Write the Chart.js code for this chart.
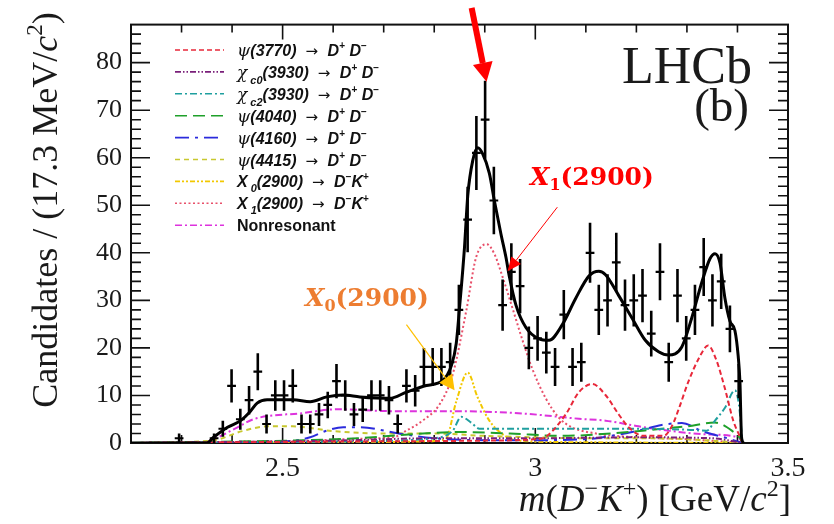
<!DOCTYPE html>
<html><head><meta charset="utf-8">
<script src="https://cdn.jsdelivr.net/npm/chart.js@4.4.1/dist/chart.umd.min.js"></script>
<style>html,body{margin:0;padding:0;background:#fff}#wrap{width:834px;height:524px;position:relative}</style>
</head><body><div id="wrap"><canvas id="c" width="834" height="524"></canvas></div>
<script>
// ---------- axes ----------
const X_MIN = 2.2, X_MAX = 3.5, Y_MIN = 0, Y_MAX = 88;
const xTickLabels = [2.5, 3, 3.5];
const yTickLabels = [0, 10, 20, 30, 40, 50, 60, 70, 80];
const BIN_WIDTH = 0.0173;

// ---------- data points (bin centres, counts, errors) ----------
const binCenters = [2.2952, 2.3644, 2.3817, 2.3990, 2.4163, 2.4336, 2.4509, 2.4682, 2.4855, 2.5028, 2.5201,
  2.5374, 2.5547, 2.5720, 2.5893, 2.6066, 2.6239, 2.6412, 2.6585, 2.6758, 2.6931, 2.7104, 2.7277, 2.7450,
  2.7623, 2.7796, 2.7969, 2.8142, 2.8315, 2.8488, 2.8661, 2.8834, 2.9007, 2.9180, 2.9353, 2.9526, 2.9699,
  2.9872, 3.0045, 3.0218, 3.0391, 3.0564, 3.0737, 3.0910, 3.1083, 3.1256, 3.1429, 3.1602, 3.1775, 3.1948,
  3.2121, 3.2294, 3.2467, 3.2640, 3.2813, 3.2986, 3.3159, 3.3332, 3.3505, 3.3678, 3.3851, 3.4024];
const counts = [1, 1, 3, 12, 5, 9, 15, 4, 10, 10, 12,
  4, 4, 6, 8, 13, 10, 6, 7, 10, 10, 9, 4, 12,
  11, 16, 16, 16, 17, 28, 47, 61, 68, 51, 29, 36, 33,
  20, 22, 19, 16, 27, 16, 17, 40, 28, 30, 38, 29, 30,
  31, 23, 36, 17, 31, 22, 28, 37, 30, 34, 24, 13];
const countErrors = [1.0, 1.0, 1.7, 3.5, 2.2, 3.0, 3.9, 2.0, 3.2, 3.2, 3.5,
  2.0, 2.0, 2.4, 2.8, 3.6, 3.2, 2.4, 2.6, 3.2, 3.2, 3.0, 2.0, 3.5,
  3.3, 4.0, 4.0, 4.0, 4.1, 5.3, 6.9, 7.8, 8.2, 7.1, 5.4, 6.0, 5.7,
  4.5, 4.7, 4.4, 4.0, 5.2, 4.0, 4.1, 6.3, 5.3, 5.5, 6.2, 5.4, 5.5,
  5.6, 4.8, 6.0, 4.1, 5.6, 4.7, 5.3, 6.1, 5.5, 5.8, 4.9, 3.6];

// ---------- total fit ----------
const fitMass = [2.20, 2.35, 2.3635, 2.391, 2.4167, 2.4364, 2.4496, 2.4693, 2.521, 2.5545, 2.5874, 2.6195, 2.653,
  2.7121, 2.745, 2.7844, 2.8165, 2.8336, 2.8435, 2.85, 2.8598, 2.8663, 2.8762, 2.886, 2.8959, 2.9091, 2.9189,
  2.9321, 2.942, 2.9485, 2.9617, 2.9814, 3.0076, 3.0273, 3.0535, 3.0798, 3.106, 3.1257, 3.1389, 3.1651, 3.1913,
  3.2177, 3.2439, 3.2636, 3.2898, 3.3095, 3.3292, 3.3458, 3.3556, 3.3655, 3.3753, 3.3852, 3.395, 3.4015, 3.4049,
  3.408, 3.412];
const fitVal = [0, 0, 1.2, 3.3, 4.7, 6.7, 8.4, 9.1, 9.1, 8.7, 9.7, 10.1, 9.7,
  9.4, 10.7, 12.1, 13.1, 16.2, 20.9, 28.4, 41, 52, 59.4, 62.1, 60.8, 56.7, 51,
  43.9, 39, 35.1, 29, 24.3, 21.9, 21.6, 24.9, 30.4, 35.1, 36.1, 35.4, 31, 26.3,
  21.6, 19.2, 18.5, 20.2, 26.3, 33.7, 38.8, 39.8, 37.8, 30.4, 25.6, 23.6, 18.2, 12.8,
  1.3, 0];

// ---------- components ----------
const psi3770Mass = [2.20, 2.6, 2.9, 3.0, 3.0207, 3.0601, 3.0863, 3.1126, 3.1389, 3.1651, 3.1848, 3.2144, 3.2538, 3.27, 3.285, 3.3025, 3.3255, 3.342, 3.358, 3.3753, 3.3917, 3.4049, 3.41];
const psi3770Val  = [0, 0.3, 0.5, 0.8, 1.3, 6, 10.7, 12.4, 10.1, 6, 3.3, 1.5, 1.5, 3.5, 7.5, 12.8, 18.2, 20.5, 17.5, 11.4, 4.7, 1.3, 0];
const chic0Mass = [2.20, 2.6, 2.8, 3.0, 3.2, 3.35, 3.41];
const chic0Val  = [0, 0.5, 1, 1, 1.2, 1, 0];
const chic2Mass = [2.20, 2.6, 2.8, 2.8367, 2.8533, 2.873, 2.8894, 2.93, 3.0, 3.1, 3.2, 3.3, 3.3393, 3.3556, 3.3753, 3.395, 3.403, 3.41];
const chic2Val  = [0, 0.3, 1, 2.6, 5.5, 4.3, 3, 3, 3, 3, 3, 2.8, 2.6, 4.7, 7.4, 11.1, 8, 0];
const psi4040Mass = [2.20, 2.4, 2.55, 2.65, 2.75, 2.85, 2.95, 3.05, 3.15, 3.25, 3.3, 3.355, 3.39, 3.405, 3.41];
const psi4040Val  = [0, 0.3, 0.6, 1, 1.8, 2.3, 2, 1.5, 2, 3, 3.5, 4.3, 2.5, 1, 0];
const psi4160Mass = [2.20, 2.5, 2.5545, 2.587, 2.62, 2.653, 2.73, 2.8, 2.9, 3.0, 3.1, 3.15, 3.2, 3.25, 3.29, 3.33, 3.38, 3.41];
const psi4160Val  = [0, 0.3, 1.2, 2.6, 3.3, 3.3, 2, 1, 0.6, 0.6, 0.8, 1.5, 2.5, 3.8, 4.2, 2.5, 1, 0];
const psi4415Mass = [2.20, 2.36, 2.42, 2.47, 2.52, 2.6, 2.7, 2.8, 2.9, 3.0, 3.1, 3.2, 3.3, 3.41];
const psi4415Val  = [0, 0.5, 2.5, 3.5, 3.5, 2.5, 2, 2, 1.5, 1.2, 1, 1, 0.8, 0];
const x0Mass = [2.20, 2.70, 2.80, 2.8238, 2.8435, 2.8663, 2.8855, 2.909, 2.9386, 2.968, 3.05, 3.41];
const x0Val  = [0, 0.2, 0.4, 1, 8.7, 14.8, 9.7, 4.7, 1.6, 0.5, 0.2, 0];
const x1Mass = [2.20, 2.55, 2.65, 2.722, 2.745, 2.777, 2.8104, 2.836, 2.863, 2.883, 2.904, 2.9189, 2.9347, 2.955, 2.9747, 2.9944, 3.0207, 3.0469, 3.0725, 3.12, 3.2, 3.3, 3.41];
const x1Val  = [0, 0.5, 0.9, 1.3, 2.6, 4.7, 8.1, 14.2, 27.6, 39.1, 41.8, 39.8, 35.1, 28.3, 21.6, 15.5, 9.4, 5.3, 3.3, 2, 1.2, 0.8, 0];
const nrMass = [2.20, 2.34, 2.3635, 2.4108, 2.4423, 2.5408, 2.6077, 2.718, 2.8165, 2.923, 2.988, 3.0863, 3.139, 3.2045, 3.27, 3.342, 3.4015, 3.41];
const nrVal  = [0, 0, 0.8, 3.3, 5, 6.3, 7.1, 6.7, 6.7, 6.5, 6.1, 5.1, 4.7, 3.5, 2.5, 1.8, 1.2, 0];

// ---------- fonts for rich text ----------
const SERIF = '"Liberation Serif", "Times New Roman", "DejaVu Serif", serif';
const BI = 'bold italic 16px "Liberation Sans"';
const BN = 'bold 16px "Liberation Sans"';
const GR = 'italic 17px "DejaVu Serif"';
const AR = '15px "DejaVu Sans"';
const SUP = 'bold 10px "Liberation Sans"';
const SUB = 'bold italic 11px "Liberation Sans"';
function ddLabel(greek, sub, mass){
  const s = [{t: greek, f: GR}];
  if (sub) s.push({t: ' ' + sub, f: SUB, dy: 6});
  s.push({t: mass + '  ', f: BI}, {t: '\u2192  ', f: AR}, {t: 'D', f: BI}, {t: '+', f: SUP, dy: -7}, {t: ' D', f: BI}, {t: '\u2212', f: SUP, dy: -7});
  return s;
}
function dkLabel(sub){
  return [{t: 'X', f: BI}, {t: ' ' + sub, f: SUB, dy: 5}, {t: '(2900)  ', f: BI}, {t: '\u2192  ', f: AR}, {t: 'D', f: BI}, {t: '\u2212', f: SUP, dy: -7}, {t: 'K', f: BI}, {t: '+', f: SUP, dy: -7}];
}

const components = [
  {label: '\u03c8(3770) \u2192 D+ D\u2212', rich: ddLabel('\u03c8', '', '(3770)'), mass: psi3770Mass, val: psi3770Val, color: '#e8283a', dash: [5, 3]},
  {label: '\u03c7c0(3930) \u2192 D+ D\u2212', rich: ddLabel('\u03c7', 'c0', '(3930)'), mass: chic0Mass, val: chic0Val, color: '#7a1f7a', dash: [6, 2, 1.5, 2, 1.5, 2]},
  {label: '\u03c7c2(3930) \u2192 D+ D\u2212', rich: ddLabel('\u03c7', 'c2', '(3930)'), mass: chic2Mass, val: chic2Val, color: '#1f9f9f', dash: [7, 3, 2, 3]},
  {label: '\u03c8(4040) \u2192 D+ D\u2212', rich: ddLabel('\u03c8', '', '(4040)'), mass: psi4040Mass, val: psi4040Val, color: '#1fa02a', dash: [12, 6]},
  {label: '\u03c8(4160) \u2192 D+ D\u2212', rich: ddLabel('\u03c8', '', '(4160)'), mass: psi4160Mass, val: psi4160Val, color: '#2b2bdc', dash: [14, 6, 3, 6]},
  {label: '\u03c8(4415) \u2192 D+ D\u2212', rich: ddLabel('\u03c8', '', '(4415)'), mass: psi4415Mass, val: psi4415Val, color: '#c8c830', dash: [5, 4]},
  {label: 'X0(2900) \u2192 D\u2212K+', rich: dkLabel('0'), mass: x0Mass, val: x0Val, color: '#f2c800', dash: [5, 2, 2, 2, 2, 2]},
  {label: 'X1(2900) \u2192 D\u2212K+', rich: dkLabel('1'), mass: x1Mass, val: x1Val, color: '#e8506a', dash: [2, 2.5]},
  {label: 'Nonresonant', rich: [{t: 'Nonresonant', f: BN}], mass: nrMass, val: nrVal, color: '#dd33dd', dash: [7, 3, 2, 3]}
];

// ---------- build datasets ----------
const zip = (m, v) => m.map((x, i) => ({x: x, y: v[i]}));
const errV = [], errH = [];
binCenters.forEach((c, i) => {
  errV.push({x: c, y: counts[i] - countErrors[i]}, {x: c, y: counts[i] + countErrors[i]}, {x: c, y: null});
  errH.push({x: c - BIN_WIDTH / 2, y: counts[i]}, {x: c + BIN_WIDTH / 2, y: counts[i]}, {x: c + BIN_WIDTH / 2, y: null});
});
const datasets = [
  {label: 'Data', data: errV, borderColor: '#000', borderWidth: 2.6, pointRadius: 0, spanGaps: false, fill: false},
  {label: 'Data bins', data: errH, borderColor: '#000', borderWidth: 2.2, pointRadius: 0, spanGaps: false, fill: false},
  {label: 'Total fit', data: zip(fitMass, fitVal), borderColor: '#000', borderWidth: 3, pointRadius: 0, cubicInterpolationMode: 'monotone', fill: false}
];
components.forEach(c => datasets.push({label: c.label, data: zip(c.mass, c.val), borderColor: c.color, borderWidth: 2, borderDash: c.dash, pointRadius: 0, cubicInterpolationMode: 'monotone', fill: false}));

// ---------- helpers ----------
function richWidth(ctx, segs){ let w = 0; for (const s of segs){ ctx.font = s.f; w += ctx.measureText(s.t).width; } return w; }
function drawRich(ctx, x, y, segs, align){
  const w = richWidth(ctx, segs);
  let cx = align === 'center' ? x - w / 2 : (align === 'right' ? x - w : x);
  ctx.textAlign = 'left'; ctx.textBaseline = 'alphabetic';
  for (const s of segs){ ctx.font = s.f; ctx.fillText(s.t, cx, y + (s.dy || 0)); cx += ctx.measureText(s.t).width; }
}
function arrow(ctx, x0, y0, x1, y1, lw, hl, hw, color){
  const dx = x1 - x0, dy = y1 - y0, L = Math.hypot(dx, dy), ux = dx / L, uy = dy / L;
  const bx = x1 - ux * hl, by = y1 - uy * hl;
  ctx.strokeStyle = color; ctx.fillStyle = color; ctx.lineWidth = lw; ctx.setLineDash([]);
  ctx.beginPath(); ctx.moveTo(x0, y0); ctx.lineTo(bx, by); ctx.stroke();
  ctx.beginPath(); ctx.moveTo(x1, y1); ctx.lineTo(bx - uy * hw, by + ux * hw); ctx.lineTo(bx + uy * hw, by - ux * hw); ctx.closePath(); ctx.fill();
}

const framePlugin = {
  id: 'frame',
  beforeDatasetsDraw(chart){
    const {ctx, chartArea: a, scales: {x, y}} = chart;
    ctx.save();
    ctx.strokeStyle = '#111'; ctx.lineWidth = 2; ctx.setLineDash([]);
    ctx.strokeRect(a.left, a.top, a.right - a.left, a.bottom - a.top);
    ctx.lineWidth = 1.6;
    ctx.beginPath();
    for (let i = 0; i <= 44; i++){
      const v = i * 2, py = y.getPixelForValue(v), len = (v % 10 === 0) ? 19 : 10;
      if (py < a.top + 1) continue;
      ctx.moveTo(a.left, py); ctx.lineTo(a.left + len, py);
      ctx.moveTo(a.right, py); ctx.lineTo(a.right - len, py);
    }
    for (let i = 22; i <= 35; i++){
      const v = i / 10, px = x.getPixelForValue(v), len = (i % 5 === 0) ? 15 : 8;
      ctx.moveTo(px, a.bottom); ctx.lineTo(px, a.bottom - len);
      ctx.moveTo(px, a.top); ctx.lineTo(px, a.top + len);
    }
    ctx.stroke();
    ctx.restore();
  },
  afterDraw(chart){
    const {ctx, chartArea: a, scales: {x, y}} = chart;
    ctx.save();
    ctx.fillStyle = '#1a1a1a';
    // axis titles
    const TF = '36px ' + SERIF, TI = 'italic 36px ' + SERIF, TS = '23px ' + SERIF;
    ctx.save(); ctx.translate(57, 210); ctx.rotate(-Math.PI / 2);
    drawRich(ctx, 0, 0, [{t: 'Candidates / (17.3 MeV/', f: TF}, {t: 'c', f: TI}, {t: '2', f: TS, dy: -15}, {t: ')', f: TF}], 'center');
    ctx.restore();
    const XF = '37px ' + SERIF, XI = 'italic 37px ' + SERIF, XS = '24px ' + SERIF;
    drawRich(ctx, 791, 511, [{t: 'm', f: XI}, {t: '(', f: XF}, {t: 'D', f: XI}, {t: '\u2212', f: XS, dy: -15}, {t: 'K', f: XI}, {t: '+', f: XS, dy: -15}, {t: ') [GeV/', f: XF}, {t: 'c', f: XI}, {t: '2', f: XS, dy: -15}, {t: ']', f: XF}], 'right');
    // LHCb label
    ctx.font = '52px ' + SERIF; ctx.textAlign = 'right'; ctx.textBaseline = 'alphabetic';
    ctx.fillText('LHCb', 752, 83);
    ctx.font = '47px ' + SERIF;
    ctx.fillText('(b)', 749, 121);
    // legend
    components.forEach((c, i) => {
      const ly = 50 + i * 21.9;
      ctx.strokeStyle = c.color; ctx.lineWidth = 1.6; ctx.setLineDash(c.dash);
      ctx.beginPath(); ctx.moveTo(175, ly); ctx.lineTo(224, ly); ctx.stroke();
      ctx.setLineDash([]);
      ctx.fillStyle = '#111';
      drawRich(ctx, 237, ly + 6, c.rich, 'left');
    });
    // annotations
    const P = (m, v) => [x.getPixelForValue(m), y.getPixelForValue(v)];
    let t0 = P(2.874, 91.5), t1 = P(2.9035, 76);
    arrow(ctx, t0[0], t0[1], t1[0], t1[1], 6, 19, 10, '#ff0000');
    t0 = P(3.0436, 49.6); t1 = P(2.9451, 36.1);
    arrow(ctx, t0[0], t0[1], t1[0], t1[1], 1, 14, 6, '#ff0000');
    t0 = P(2.745, 24.9); t1 = P(2.8402, 11.1);
    arrow(ctx, t0[0], t0[1], t1[0], t1[1], 1.2, 15, 8, '#ffc000');
    const AF = 'bold 25px "DejaVu Serif"', AI = 'bold italic 25px "DejaVu Serif"', AS = 'bold 16px "DejaVu Serif"';
    ctx.fillStyle = '#ff0000';
    drawRich(ctx, 530, 185, [{t: 'X', f: AI}, {t: '1', f: AS, dy: 5}, {t: '(2900)', f: AF}], 'left');
    ctx.fillStyle = '#ed7d31';
    drawRich(ctx, 305, 306, [{t: 'X', f: AI}, {t: '0', f: AS, dy: 5}, {t: '(2900)', f: AF}], 'left');
    ctx.restore();
  }
};

new Chart(document.getElementById('c').getContext('2d'), {
  type: 'line',
  data: {datasets: datasets},
  options: {
    responsive: false, animation: false,
    layout: {padding: {top: 8, right: 46, left: 0, bottom: 0}},
    plugins: {legend: {display: false}, tooltip: {enabled: false}, title: {display: false}},
    elements: {point: {radius: 0}},
    scales: {
      x: {type: 'linear', min: X_MIN, max: X_MAX,
        afterFit: s => { s.height = 81; },
        afterBuildTicks: s => { s.ticks = xTickLabels.map(v => ({value: v})); },
        grid: {display: false, drawTicks: false}, border: {display: false},
        ticks: {font: {family: SERIF, size: 28}, color: '#1a1a1a', padding: 9, maxRotation: 0, autoSkip: false, callback: v => String(v)}},
      y: {type: 'linear', min: Y_MIN, max: Y_MAX,
        afterFit: s => { s.width = 131; },
        afterBuildTicks: s => { s.ticks = yTickLabels.map(v => ({value: v})); },
        grid: {display: false, drawTicks: false}, border: {display: false},
        ticks: {font: {family: SERIF, size: 26}, color: '#1a1a1a', padding: 9, autoSkip: false, callback: v => String(v)}}
    }
  },
  plugins: [framePlugin]
});
</script></body></html>
